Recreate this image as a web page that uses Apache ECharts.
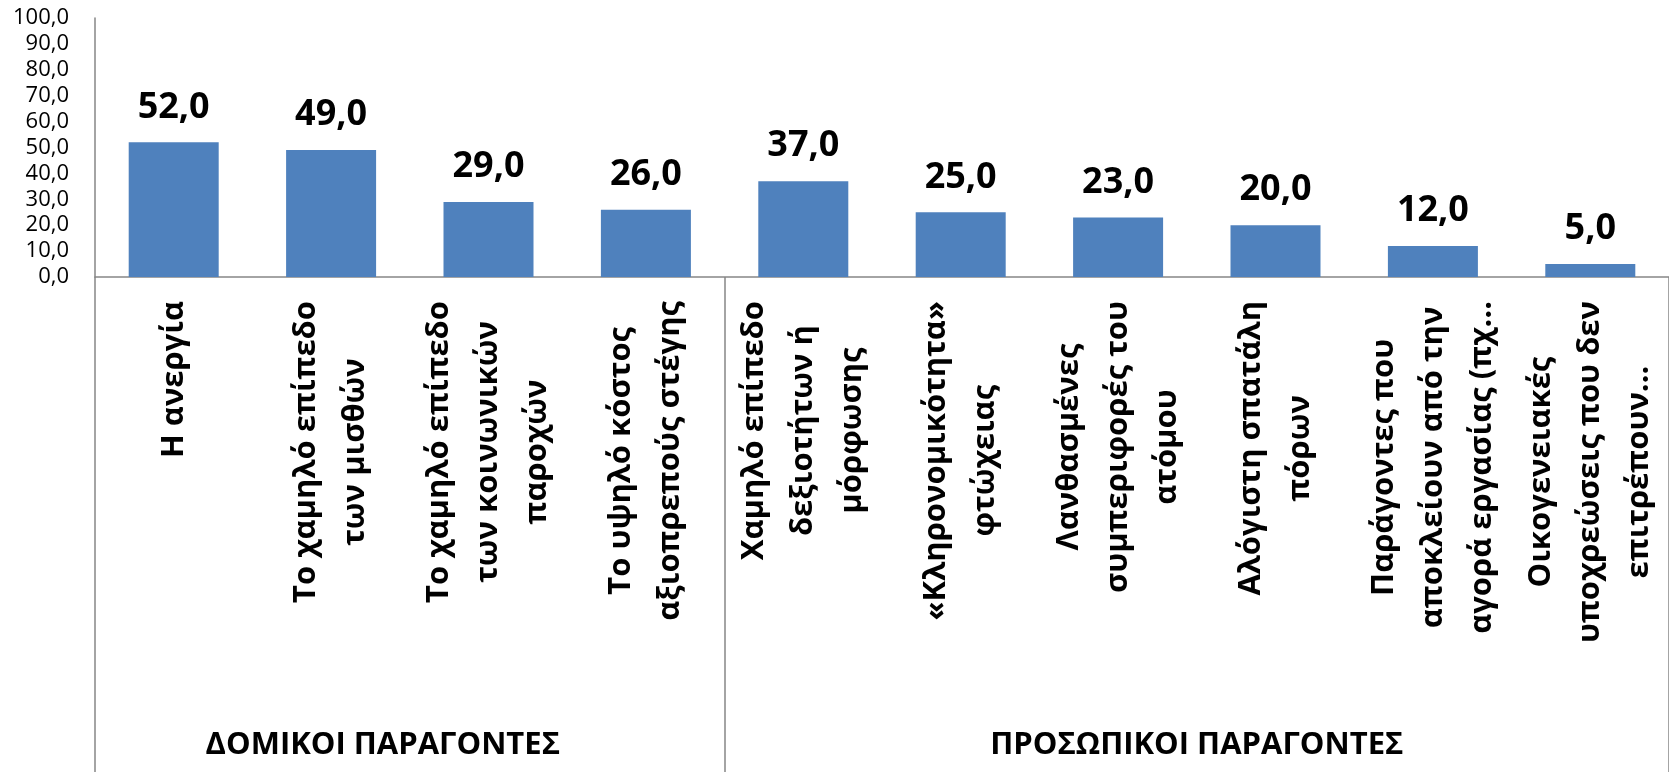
<!DOCTYPE html>
<html>
<head>
<meta charset="utf-8">
<script src="https://cdn.jsdelivr.net/npm/echarts@6/dist/echarts.min.js"></script>
<style>
  html, body { margin: 0; padding: 0; background: #fff; }
  #chart { width: 1669px; height: 772px; }
</style>
</head>
<body>
<div id="chart"></div>
<script>
const categories = [
  'Η ανεργία',
  'Το χαμηλό επίπεδο\nτων μισθών',
  'Το χαμηλό επίπεδο\nτων κοινωνικών\nπαροχών',
  'Το υψηλό κόστος\nαξιοπρεπούς στέγης',
  'Χαμηλό επίπεδο\nδεξιοτήτων ή\nμόρφωσης',
  '«Κληρονομικότητα»\nφτώχειας',
  'Λανθασμένες\nσυμπεριφορές του\nατόμου',
  'Αλόγιστη σπατάλη\nπόρων',
  'Παράγοντες που\nαποκλείουν από την\nαγορά εργασίας (πχ…',
  'Οικογενειακές\nυποχρεώσεις που δεν\nεπιτρέπουν…'
];
const values = [52, 49, 29, 26, 37, 25, 23, 20, 12, 5];
const groupNames = ['ΔΟΜΙΚΟΙ ΠΑΡΑΓΟΝΤΕΣ', 'ΠΡΟΣΩΠΙΚΟΙ ΠΑΡΑΓΟΝΤΕΣ'];
const groupSizes = [4, 6];
const yMin = 0, yMax = 100, yStep = 10;

const fmt = v => Number(v).toFixed(1).replace('.', ',');
const FONT = '"Open Sans", "Noto Sans", sans-serif';
const AXIS_GREY = '#868686';

// group axis: half-category slots, so group centres and borders fall on slots
const slots = new Array(categories.length * 2 + 1).fill('');
const borders = new Set([0]);
let start = 0;
groupSizes.forEach((n, i) => {
  slots[start + (start + n)] = groupNames[i];
  borders.add((start + n) * 2);
  start += n;
});
const firstGroup = groupNames[0];

const chart = echarts.init(document.getElementById('chart'));
chart.setOption({
  animation: false,
  grid: { left: 95, top: 18, width: 1577, bottom: 495, containLabel: false },
  xAxis: [
    {
      type: 'category',
      data: categories,
      axisLine: { lineStyle: { color: AXIS_GREY, width: 1.5 } },
      axisTick: { show: false },
      axisLabel: {
        interval: 0,
        rotate: 90,
        margin: 24,
        formatter: v => v.split('\n').map(l => '{c|' + l + '}').join('\n'),
        rich: {
          c: { fontSize: 31, fontWeight: 'bold', fontFamily: FONT, color: '#000', lineHeight: 49, align: 'center' }
        }
      }
    },
    {
      type: 'category',
      position: 'bottom',
      boundaryGap: false,
      data: slots,
      axisLine: { show: false },
      axisTick: {
        show: true,
        length: 500,
        interval: i => borders.has(i),
        lineStyle: { color: AXIS_GREY, width: 1.5 }
      },
      axisLabel: {
        interval: i => slots[i] !== '',
        margin: 453,
        formatter: v => (v === firstGroup ? '{a|' : '{b|') + v + '}',
        rich: {
          a: { fontSize: 31, fontWeight: 'bold', fontFamily: FONT, color: '#000', padding: [0, 54, 0, 0] },
          b: { fontSize: 31, fontWeight: 'bold', fontFamily: FONT, color: '#000' }
        }
      }
    }
  ],
  yAxis: {
    type: 'value',
    min: yMin,
    max: yMax,
    interval: yStep,
    axisLine: { show: true, lineStyle: { color: AXIS_GREY, width: 1.5 } },
    axisTick: { show: false },
    splitLine: { show: false },
    axisLabel: {
      margin: 26,
      fontSize: 22,
      fontFamily: FONT,
      color: '#000',
      formatter: fmt
    }
  },
  series: [
    {
      type: 'bar',
      data: values,
      barWidth: 90,
      itemStyle: { color: '#4F81BD' },
      label: {
        show: true,
        position: 'top',
        distance: 17,
        fontSize: 36,
        fontWeight: 'bold',
        fontFamily: FONT,
        color: '#000',
        formatter: p => fmt(p.value)
      }
    }
  ]
});
</script>
</body>
</html>
